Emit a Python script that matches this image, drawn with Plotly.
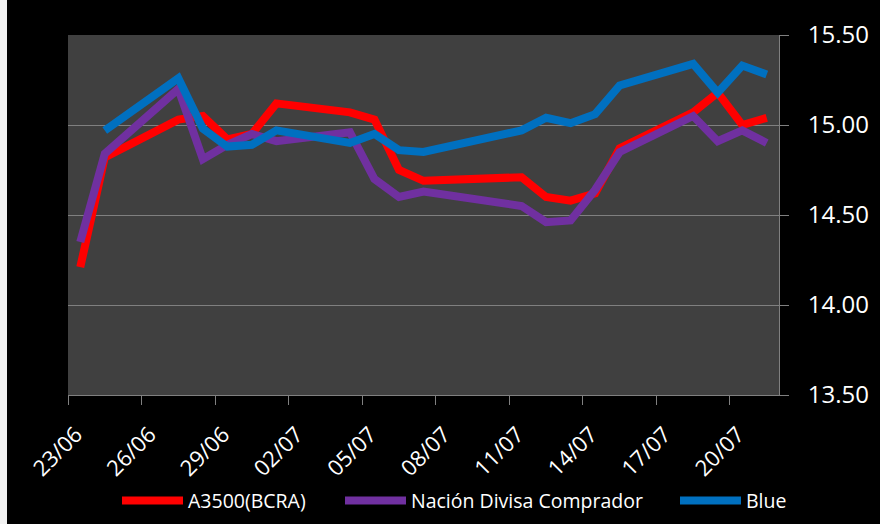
import pandas as pd
import plotly.graph_objects as go

# Trading days (Argentina, June-July 2016)
dates = [
    "2016-06-23", "2016-06-24", "2016-06-27", "2016-06-28", "2016-06-29",
    "2016-06-30", "2016-07-01", "2016-07-04", "2016-07-05", "2016-07-06",
    "2016-07-07", "2016-07-11", "2016-07-12", "2016-07-13", "2016-07-14",
    "2016-07-15", "2016-07-18", "2016-07-19", "2016-07-20", "2016-07-21",
]

a3500 = [14.21, 14.82, 15.03, 15.05, 14.92, 14.95, 15.12, 15.07, 15.03, 14.75,
         14.69, 14.71, 14.60, 14.58, 14.62, 14.87, 15.07, 15.18, 15.00, 15.04]

nacion = [14.35, 14.84, 15.20, 14.81, 14.89, 14.95, 14.91, 14.96, 14.70, 14.60,
          14.63, 14.55, 14.46, 14.47, 14.64, 14.85, 15.05, 14.91, 14.97, 14.90]

blue = [None, 14.97, 15.26, 14.98, 14.88, 14.89, 14.97, 14.90, 14.95, 14.86,
        14.85, 14.97, 15.04, 15.01, 15.06, 15.22, 15.34, 15.18, 15.33, 15.28]

series_names = ["A3500(BCRA)", "Nación Divisa Comprador", "Blue"]
series_colors = ["#FF0000", "#7030A0", "#0070C0"]

# Place each point in the middle of its day, as a date-axis column chart would
x = pd.to_datetime(dates) + pd.Timedelta(hours=12)

W, H = 880, 524
ML, MR, MT, MB = 68, 101, 35, 129
PW, PH = W - ML - MR, H - MT - MB
FONT = "Open Sans"

# Left pixel of each legend entry's swatch, and the legend row's centre line
legend_left_px = [117, 340, 675]
legend_row_px = 500.7
legend_ids = ["legend", "legend2", "legend3"]

fig = go.Figure()
for name, vals, color, lg in zip(series_names, [a3500, nacion, blue],
                                 series_colors, legend_ids):
    fig.add_trace(go.Scatter(
        x=x, y=vals, name=name, mode="lines",
        line=dict(color=color, width=8),
        legend=lg,
    ))

legend_layout = {}
for lg, left in zip(legend_ids, legend_left_px):
    legend_layout[lg] = dict(
        xref="container", yref="container",
        x=left / W, xanchor="left",
        y=(H - legend_row_px) / H, yanchor="middle",
        font=dict(size=19.5, color="#FFFFFF", family=FONT),
        bgcolor="rgba(0,0,0,0)",
        itemwidth=61,
    )

fig.update_layout(
    width=W, height=H,
    margin=dict(l=ML, r=MR, t=MT, b=MB, pad=0, autoexpand=False),
    paper_bgcolor="#000000",
    plot_bgcolor="#404040",
    font=dict(family=FONT, color="#FFFFFF"),
    showlegend=True,
    **legend_layout,
    xaxis=dict(
        type="date",
        range=["2016-06-23", "2016-07-22"],
        tick0="2016-06-23",
        dtick=3 * 86400000,
        tickformat="%d/%m",
        tickangle=-45,
        ticks="outside", ticklen=9, tickcolor="#808080", tickwidth=1,
        showline=True, linecolor="#808080", linewidth=1,
        showgrid=False, zeroline=False,
        automargin=False,
        ticklabelstandoff=8,
        ticklabelshift=8,
        tickfont=dict(size=22, color="#FFFFFF", family=FONT),
    ),
    yaxis=dict(
        side="right",
        range=[13.5, 15.5],
        dtick=0.5, tick0=13.5,
        tickformat=".2f",
        ticks="outside", ticklen=9, tickcolor="#808080", tickwidth=1,
        showline=True, linecolor="#808080", linewidth=1,
        showgrid=True, gridcolor="#808080", gridwidth=1,
        zeroline=False,
        automargin=False,
        ticklabelstandoff=14,
        tickfont=dict(size=24, color="#FFFFFF", family=FONT),
    ),
    shapes=[
        # light strip along the left edge of the canvas
        dict(type="rect", xref="paper", yref="paper",
             x0=-ML / PW, x1=-(ML - 7) / PW,
             y0=-MB / PH, y1=(PH + MT) / PH,
             fillcolor="#F2F2F2", line=dict(width=0), layer="above"),
    ],
)

fig.write_html("out.html")
